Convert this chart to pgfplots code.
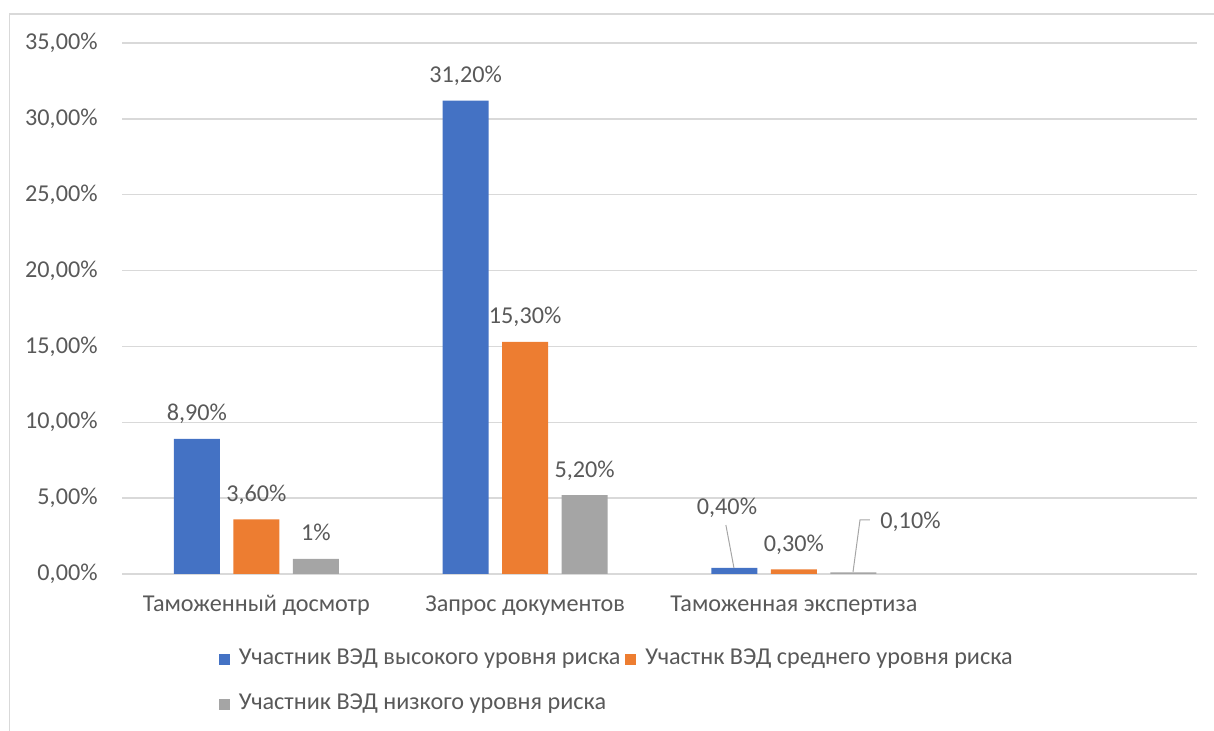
\documentclass[border=0pt]{standalone}
\usepackage{fontspec}
\setmainfont{Carlito}
\usepackage{pgfplots}
\pgfplotsset{compat=1.18}
\definecolor{cblue}{HTML}{4472C4}
\definecolor{corange}{HTML}{ED7D31}
\definecolor{cgray}{HTML}{A5A5A5}
\definecolor{txt}{HTML}{595959}
\definecolor{gridc}{HTML}{D9D9D9}
\definecolor{leader}{HTML}{A6A6A6}
\begin{document}
\fontsize{12.1pt}{14pt}\selectfont
\begin{tikzpicture}
\path[use as bounding box] (0,0) rectangle (607pt,365.5pt);
\draw[gridc, line width=0.75pt] (4.75pt,0) -- (4.75pt,358.5pt) -- (607pt,358.5pt);
\begin{axis}[
  at={(61pt,78.5pt)}, anchor=south west,
  scale only axis, width=537.5pt, height=265.5pt,
  xmin=-0.5, xmax=3.5, ymin=0, ymax=35,
  ybar=6.75pt, bar width=23pt,
  axis line style={draw=none},
  major tick length=0pt,
  ytick={0,5,...,35},
  yticklabels={{0,00\%},{5,00\%},{10,00\%},{15,00\%},{20,00\%},{25,00\%},{30,00\%},{35,00\%}},
  xtick={0,1,2},
  xticklabels={Таможенный досмотр, Запрос документов, Таможенная экспертиза},
  ymajorgrids, grid style={gridc, line width=0.7pt},
  yticklabel style={text=txt, inner sep=0pt, anchor=east, xshift=-12pt},
  xticklabel style={text=txt, inner sep=0pt, anchor=base, yshift=-19pt},
  point meta=explicit symbolic,
  nodes near coords={\pgfplotspointmeta},
  every node near coord/.append style={text=txt, anchor=base, inner sep=0pt, yshift=9pt},
  legend columns=2,
  legend cell align=left,
  legend style={at={(0.0902,-0.1412)}, anchor=north west, draw=none, inner sep=0pt, outer sep=0pt,
    row sep=12pt,
    nodes={inner sep=0pt, text=txt, text height=8pt, text depth=2.5pt},
    /tikz/every odd column/.style={column sep=4.5pt},
    /tikz/every even column/.style={column sep=2.5pt}},
  legend image code/.code={\fill[#1] (0pt,-2.75pt) rectangle (5.5pt,2.75pt);},
  clip=false,
]
\addplot[fill=cblue, draw=none] coordinates {(0,8.9) [8,90\%] (1,31.2) [31,20\%] (2,0.4) []};
\addplot[fill=corange, draw=none] coordinates {(0,3.6) [3,60\%] (1,15.3) [15,30\%] (2,0.3) [0,30\%]};
\addplot[fill=cgray, draw=none] coordinates {(0,1.0) [1\%] (1,5.2) [5,20\%] (2,0.1) []};
\legend{Участник ВЭД высокого уровня риска, Участнк ВЭД среднего уровня риска, Участник ВЭД низкого уровня риска}
\draw[leader, line width=0.5pt] (axis cs:1.777,0.4) -- (axis cs:1.747,3.23);
\node[text=txt, anchor=base, inner sep=0pt] at (axis cs:1.751,3.89) {0,40\%};
\draw[leader, line width=0.5pt] (axis cs:2.220,0.13) -- (axis cs:2.246,3.56) -- (axis cs:2.283,3.56);
\node[text=txt, anchor=base west, inner sep=0pt] at (axis cs:2.3205,3.03) {0,10\%};
\end{axis}
\end{tikzpicture}
\end{document}
